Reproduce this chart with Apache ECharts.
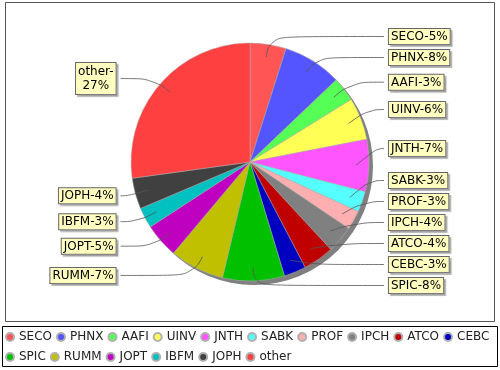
<!DOCTYPE html>
<html>
<head>
<meta charset="utf-8">
<script src="https://cdn.jsdelivr.net/npm/echarts@6/dist/echarts.min.js"></script>
<style>html,body{margin:0;padding:0;background:#fff;}#c{width:500px;height:370px;}</style>
</head>
<body>
<div id="c"></div>
<script>
var categories = ['SECO','PHNX','AAFI','UINV','JNTH','SABK','PROF','IPCH','ATCO','CEBC','SPIC','RUMM','JOPT','IBFM','JOPH','other'];
var shares = [4.9, 8.0, 3.3, 5.75, 7.1, 2.8, 2.6, 3.7, 4.2, 3.0, 8.4, 7.4, 4.7, 2.8, 4.2, 27.2];
var colors = ['#FF5555','#5555FF','#55FF55','#FFFF55','#FF55FF','#55FFFF','#FFAFAF','#808080','#C00000','#0000C0','#00C000','#C0C000','#C000C0','#00C0C0','#404040','#FF4040'];
var legendRow1 = categories.slice(0, 10);
var legendRow2 = categories.slice(10);

var CX = 250, CY = 162, R = 119;
var FONT = 'DejaVu Sans';

var sliceData = categories.map(function (n, i) {
  return { name: n, value: shares[i], itemStyle: { color: colors[i] } };
});
var labelData = categories.map(function (n, i) {
  return { name: n, value: shares[i] };
});

var legendCommon = {
  left: 5, padding: 0,
  icon: 'circle', itemWidth: 8, itemHeight: 8, itemGap: 4,
  textStyle: { fontFamily: FONT, fontSize: 12, color: '#222' }
};

var pieBase = {
  type: 'pie',
  left: 0, top: 0, width: 500, height: 296,
  center: [CX, CY],
  radius: R,
  startAngle: 90,
  clockwise: true,
  percentPrecision: 2,
  emphasis: { disabled: true }
};

var chart = echarts.init(document.getElementById('c'), null, { renderer: 'canvas' });
chart.setOption({
  animation: false,
  backgroundColor: '#fff',
  color: colors,
  graphic: [
    { type: 'rect', z: -10, shape: { x: 5.5, y: 2.5, width: 489, height: 319 }, style: { fill: '#fff', stroke: '#555', lineWidth: 1 } },
    { type: 'circle', z: -5, shape: { cx: CX + 4, cy: CY + 4, r: R }, style: { fill: '#808080' } },
    { type: 'rect', z: -10, shape: { x: 2.5, y: 326.5, width: 495, height: 40 }, style: { fill: '#fff', stroke: '#000', lineWidth: 1 } }
  ],
  legend: [
    Object.assign({ top: 331, data: legendRow1 }, legendCommon),
    Object.assign({ top: 351, data: legendRow2 }, legendCommon)
  ],
  series: [
    Object.assign({}, pieBase, {
      z: 2,
      silent: true,
      itemStyle: { borderColor: '#b0b0b0', borderWidth: 0.5 },
      label: { show: false },
      labelLine: { show: false },
      data: sliceData
    }),
    Object.assign({}, pieBase, {
      z: 3,
      avoidLabelOverlap: true,
      itemStyle: { color: 'rgba(0,0,0,0)', borderWidth: 0 },
      label: {
        show: true,
        alignTo: 'labelLine',
        edgeDistance: 5,
        minMargin: 4,
        fontFamily: FONT, fontSize: 12, color: '#000',
        backgroundColor: '#FFFFC0',
        borderColor: '#666', borderWidth: 1,
        padding: [2, 2, 1, 2],
        shadowColor: 'rgba(140,140,140,0.6)', shadowBlur: 1, shadowOffsetX: 2, shadowOffsetY: 2,
        formatter: function (p) {
          var pc = Math.round(p.percent) + '%';
          if (p.name === 'other') return '{c|' + p.name + '-}\n{c|' + pc + '}';
          return p.name + '-' + pc;
        },
        rich: { c: { fontFamily: FONT, fontSize: 12, color: '#000', align: 'center', lineHeight: 14 } }
      },
      labelLine: {
        show: true, length: 8, length2: 7, smooth: 0.5,
        lineStyle: { color: '#555', width: 0.8 }
      },
      labelLayout: function (params) {
        var pts = params.labelLinePoints;
        if (!pts || pts.length < 2) return {};
        var p0 = pts[0];
        var inner = [CX + (p0[0] - CX) * 0.89, CY + (p0[1] - CY) * 0.89];
        return { labelLinePoints: [inner].concat(pts.slice(1)) };
      },
      data: labelData
    })
  ]
});
</script>
</body>
</html>
